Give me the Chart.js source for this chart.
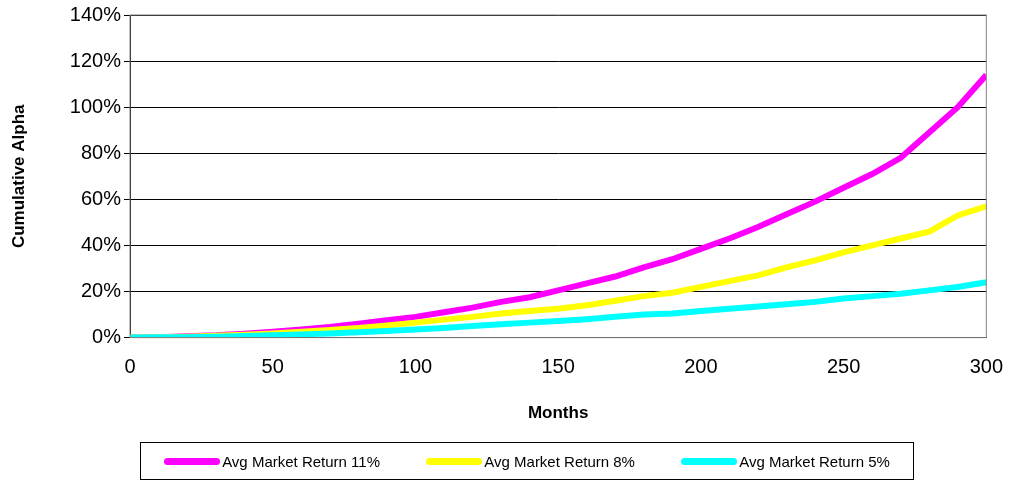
<!DOCTYPE html>
<html>
<head>
<meta charset="utf-8">
<script src="https://cdn.jsdelivr.net/npm/chart.js@4"></script>
<style>
  body { margin: 0; background: #fff; font-family: "Liberation Sans", Arial, sans-serif; }
  #wrap { position: relative; width: 1013px; height: 483px; }
  #legend { position: absolute; left: 140px; top: 442px; width: 774px; height: 38px; border: 1px solid #000;
    display: flex; align-items: center; justify-content: space-around; font-size: 15px; box-sizing: border-box; }
  .item { display: flex; align-items: center; }
  .sw { width: 56px; height: 7px; border-radius: 4px; margin-right: 2px; }
</style>
</head>
<body>
<div id="wrap">
  <canvas id="chart" width="1013" height="483"></canvas>
  <div id="legend"></div>
</div>
<script>
    // 월 (0 ~ 300, 10개월 간격)
    var months = [];
    for (var i = 0; i <= 300; i += 10) months.push(i);

    var ret11 = [0, 0.2, 0.6, 1, 1.7, 2.5, 3.5, 4.6, 6, 7.5, 9, 11, 13, 15.5, 17.5, 20.5, 23.5, 26.5, 30.5, 34, 38.5, 43, 48, 53.5, 59, 65, 71, 78, 89, 100, 114];
    var ret8 = [0, 0.1, 0.4, 0.8, 1.2, 1.8, 2.5, 3.3, 4.2, 5.3, 6.5, 7.8, 9, 10.5, 11.5, 12.5, 14, 16, 18, 19.5, 22, 24.5, 27, 30.5, 33.5, 37, 40, 43, 46, 53, 57];
    var ret5 = [0, 0.1, 0.2, 0.4, 0.7, 1, 1.4, 1.8, 2.3, 2.9, 3.5, 4.2, 5, 5.8, 6.5, 7.2, 8, 9, 10, 10.5, 11.5, 12.5, 13.5, 14.5, 15.5, 17, 18, 19, 20.5, 22, 24];

    var seriesNames = ['Avg Market Return 11%', 'Avg Market Return 8%', 'Avg Market Return 5%'];
    var seriesColors = ['#ff00ff', '#ffff00', '#00ffff'];
    var seriesData = [ret11, ret8, ret5];

    function toPoints(arr) {
        return arr.map(function(v, i) { return { x: months[i], y: v }; });
    }

    var datasets = seriesData.map(function(arr, i) {
        return {
            label: seriesNames[i],
            data: toPoints(arr),
            borderColor: seriesColors[i],
            borderWidth: 6,
            pointRadius: 0,
            tension: 0
        };
    }).reverse();

    // 차트 영역 테두리
    var borderPlugin = {
        id: 'plotBorder',
        afterDraw: function(chart) {
            var a = chart.chartArea, c = chart.ctx;
            c.save();
            c.strokeStyle = '#808080';
            c.lineWidth = 1;
            c.strokeRect(a.left, a.top, a.right - a.left, a.bottom - a.top);
            c.restore();
        }
    };

    new Chart(document.getElementById('chart'), {
        type: 'line',
        data: { datasets: datasets },
        options: {
            responsive: false,
            animation: false,
            layout: { padding: { top: 12, right: 18, bottom: 59, left: 9 } },
            plugins: { legend: { display: false }, tooltip: { enabled: false } },
            scales: {
                x: {
                    type: 'linear', min: 0, max: 300,
                    grid: { display: false },
                    border: { color: '#000' },
                    ticks: { stepSize: 50, color: '#000', font: { size: 20, family: 'Liberation Sans' }, padding: 10 },
                    title: { display: true, text: 'Months', color: '#000', padding: { top: 14, bottom: 0 },
                        font: { size: 17, weight: 'bold', family: 'Liberation Sans' } }
                },
                y: {
                    min: 0, max: 140,
                    afterFit: function(scale) { scale.width = 121; },
                    grid: { color: '#000', drawTicks: true, tickLength: 6 },
                    border: { color: '#000' },
                    ticks: { stepSize: 20, color: '#000', font: { size: 20, family: 'Liberation Sans' },
                        callback: function(v) { return v + '%'; } },
                    title: { display: true, text: 'Cumulative Alpha', color: '#000', padding: { top: 0, bottom: 20 },
                        font: { size: 17, weight: 'bold', family: 'Liberation Sans' } }
                }
            }
        },
        plugins: [borderPlugin]
    });

    var legend = document.getElementById('legend');
    seriesNames.forEach(function(name, i) {
        var el = document.createElement('div');
        el.className = 'item';
        el.innerHTML = '<span class="sw" style="background:' + seriesColors[i] + '"></span>' + name;
        legend.appendChild(el);
    });
</script>
</body>
</html>
